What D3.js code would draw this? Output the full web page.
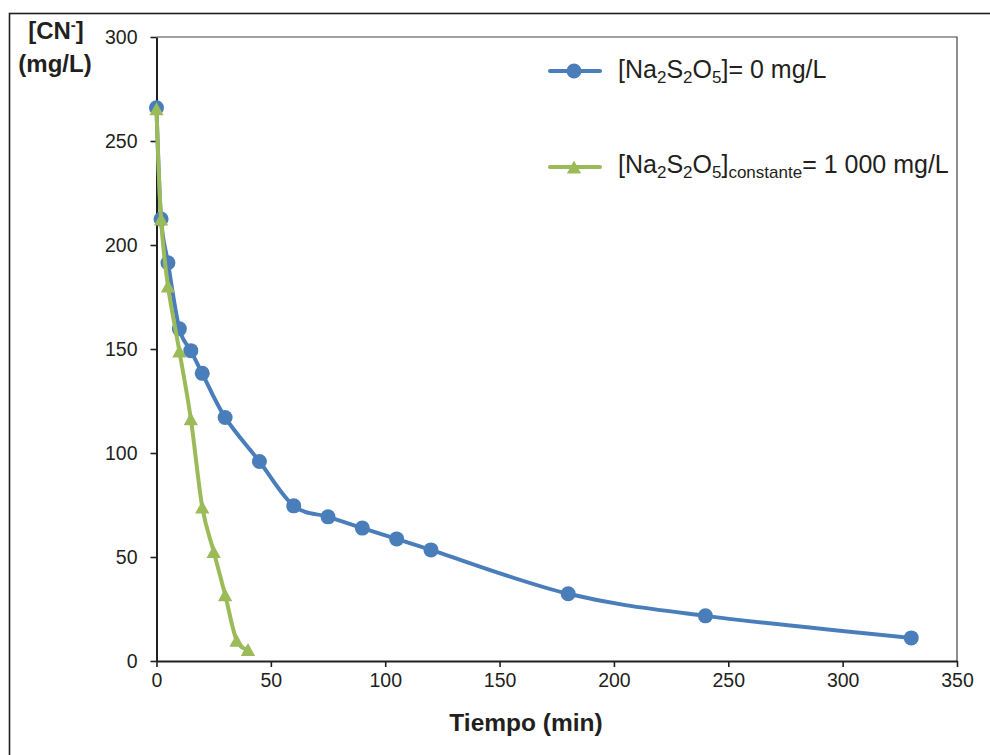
<!DOCTYPE html>
<html>
<head>
<meta charset="utf-8">
<script src="https://cdn.jsdelivr.net/npm/d3@7"></script>
<style>
  html, body { margin: 0; padding: 0; background: #ffffff; }
  svg { display: block; font-family: "Liberation Sans", Arial, sans-serif; }
</style>
</head>
<body>
<svg id="chart" width="990" height="755"></svg>
<script>
// Cyanide concentration vs. time, with and without metabisulfite
const tiempoSinNa = [0, 2, 5, 10, 15, 20, 30, 45, 60, 75, 90, 105, 120, 180, 240, 330];
const cnSinNa = [266, 212.5, 191.5, 159.7, 149.2, 138.3, 117.1, 95.9, 74.6, 69.3, 63.9, 58.7, 53.4, 32.3, 21.7, 11.1];

const tiempoConNa = [0, 2, 5, 10, 15, 20, 25, 30, 35, 40];
const cnConNa = [265.5, 212.5, 180.3, 149, 116.5, 74, 52.7, 31.8, 10, 5.5];

const xTicks = [0, 50, 100, 150, 200, 250, 300, 350];
const yTicks = [0, 50, 100, 150, 200, 250, 300];

const colorBlue = "#4a7ebb";
const colorGreen = "#9bbb59";
const ink = "#231f20";

const svg = d3.select("#chart");

// outer frame
svg.append("rect")
  .attr("x", 9.5).attr("y", 13.5)
  .attr("width", 1000).attr("height", 800)
  .attr("fill", "none").attr("stroke", ink).attr("stroke-width", 1.6);

const plotLeft = 156.5, plotRight = 957, plotTop = 37, plotBottom = 661;
const x = d3.scaleLinear().domain([0, 350]).range([plotLeft, plotRight]);
const y = d3.scaleLinear().domain([0, 300]).range([plotBottom, plotTop]);

// plot area box (top and right edges)
svg.append("path")
  .attr("d", `M${plotLeft},${plotTop}H${plotRight}V${plotBottom}`)
  .attr("fill", "none").attr("stroke", "#444").attr("stroke-width", 1.2);

// axes
const xAxis = svg.append("g").attr("transform", `translate(0,${plotBottom})`)
  .call(d3.axisBottom(x).tickValues(xTicks).tickSize(6).tickPadding(6).tickSizeOuter(0));
const yAxis = svg.append("g").attr("transform", `translate(${plotLeft},0)`)
  .call(d3.axisLeft(y).tickValues(yTicks).tickSize(6).tickPadding(13).tickSizeOuter(0));

[xAxis, yAxis].forEach(g => {
  g.select(".domain").attr("stroke", ink).attr("stroke-width", 2);
  g.selectAll(".tick line").attr("stroke", ink).attr("stroke-width", 1.6);
  g.selectAll(".tick text").attr("fill", ink)
    .style("font-size", "19.5px").style("font-family", "'Liberation Sans', Arial, sans-serif");
});
yAxis.selectAll(".tick text").attr("dy", "0.35em");

// smoothed lines
const line = d3.line().x(d => x(d[0])).y(d => y(d[1])).curve(d3.curveCatmullRom.alpha(0));

const blueData = tiempoSinNa.map((t, i) => [t, cnSinNa[i]]);
const greenData = tiempoConNa.map((t, i) => [t, cnConNa[i]]);

const tri = s => `M0,${-s * 0.5}L${s * 0.55},${s * 0.5}L${-s * 0.55},${s * 0.5}Z`;

svg.append("path").datum(blueData).attr("d", line)
  .attr("fill", "none").attr("stroke", colorBlue).attr("stroke-width", 4).attr("stroke-linejoin", "round");
svg.append("g").selectAll("circle").data(blueData).join("circle")
  .attr("cx", d => x(d[0])).attr("cy", d => y(d[1])).attr("r", 7.5).attr("fill", colorBlue);

svg.append("path").datum(greenData).attr("d", line)
  .attr("fill", "none").attr("stroke", colorGreen).attr("stroke-width", 4).attr("stroke-linejoin", "round");
svg.append("g").selectAll("path").data(greenData).join("path")
  .attr("transform", d => `translate(${x(d[0])},${y(d[1])})`)
  .attr("d", tri(13)).attr("fill", colorGreen);

// legend
const leg1 = svg.append("g");
leg1.append("line").attr("x1", 550).attr("x2", 600).attr("y1", 71).attr("y2", 71)
  .attr("stroke", colorBlue).attr("stroke-width", 4).attr("stroke-linecap", "round");
leg1.append("circle").attr("cx", 574).attr("cy", 71).attr("r", 7.5).attr("fill", colorBlue);

const leg2 = svg.append("g");
leg2.append("line").attr("x1", 550).attr("x2", 600).attr("y1", 167).attr("y2", 167)
  .attr("stroke", colorGreen).attr("stroke-width", 4).attr("stroke-linecap", "round");
leg2.append("path").attr("transform", "translate(574,167)").attr("d", tri(13)).attr("fill", colorGreen);

function naFormula(textSel) {
  textSel.append("tspan").text("[Na");
  textSel.append("tspan").attr("dy", 5).style("font-size", "17px").text("2");
  textSel.append("tspan").attr("dy", -5).text("S");
  textSel.append("tspan").attr("dy", 5).style("font-size", "17px").text("2");
  textSel.append("tspan").attr("dy", -5).text("O");
  textSel.append("tspan").attr("dy", 5).style("font-size", "17px").text("5");
  textSel.append("tspan").attr("dy", -5).text("]");
}

const t1 = svg.append("text").attr("x", 618).attr("y", 77.5)
  .attr("fill", ink).style("font-size", "25px");
naFormula(t1);
t1.append("tspan").text("= 0 mg/L");

const t2 = svg.append("text").attr("x", 618).attr("y", 173)
  .attr("fill", ink).style("font-size", "25px");
naFormula(t2);
t2.append("tspan").attr("dy", 5).style("font-size", "17px").text("constante");
t2.append("tspan").attr("dy", -5).text("= 1 000 mg/L");

// axis titles
const yt = svg.append("text").attr("x", 56).attr("y", 39).attr("text-anchor", "middle")
  .attr("fill", ink).style("font-size", "24px").style("font-weight", "bold");
yt.append("tspan").text("[CN");
yt.append("tspan").attr("dy", -9).style("font-size", "15px").text("-");
yt.append("tspan").attr("dy", 9).text("]");

svg.append("text").attr("x", 55).attr("y", 72).attr("text-anchor", "middle")
  .attr("fill", ink).style("font-size", "24px").style("font-weight", "bold").text("(mg/L)");

svg.append("text").attr("x", 526).attr("y", 731).attr("text-anchor", "middle")
  .attr("fill", ink).style("font-size", "24.5px").style("font-weight", "bold").text("Tiempo (min)");
</script>
</body>
</html>
